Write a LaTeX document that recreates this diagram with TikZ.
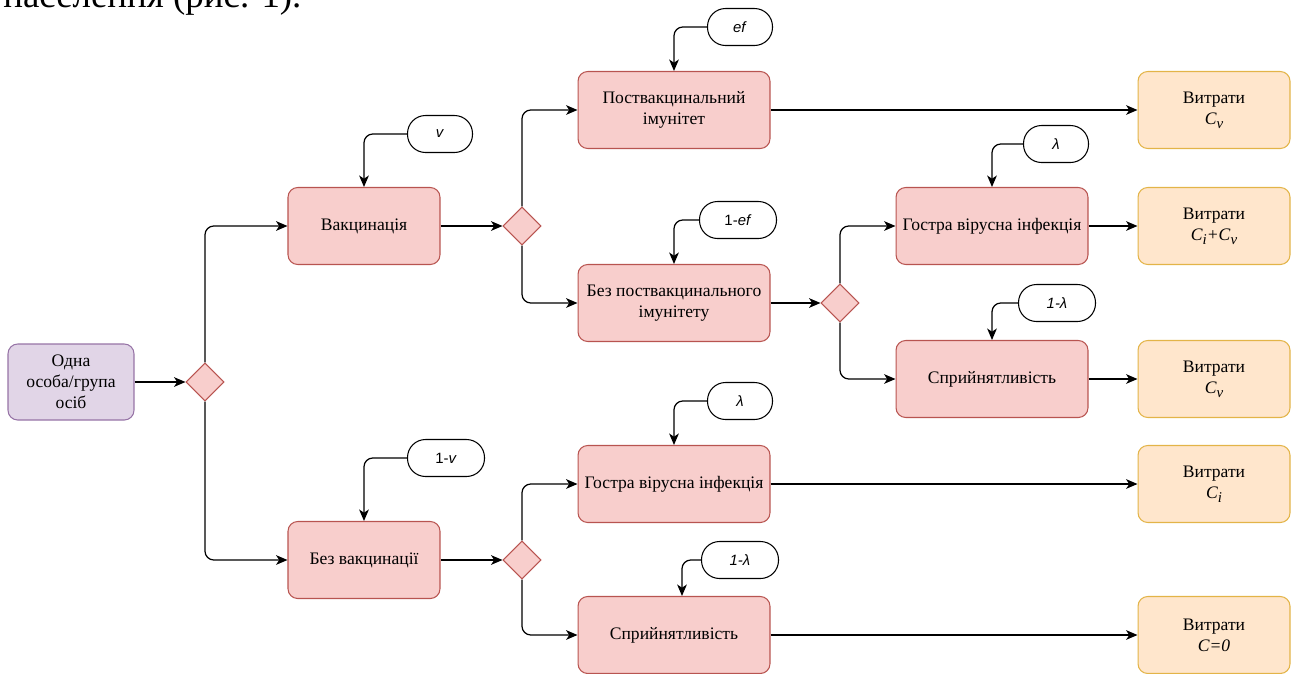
\documentclass[tikz,border=0pt]{standalone}
\usepackage{fontspec}
\setmainfont{Liberation Serif}
\newfontfamily\pillfont{Liberation Sans}
\usetikzlibrary{arrows.meta,shapes.geometric}

\definecolor{boxred}{HTML}{B85450}
\definecolor{boxredfill}{HTML}{F8CECC}
\definecolor{startline}{HTML}{9673A6}
\definecolor{startfill}{HTML}{E1D5E7}
\definecolor{costline}{HTML}{E3B448}
\definecolor{costfill}{HTML}{FFE6CC}

% cost subscript
\newcommand{\csub}[1]{\raisebox{-0.45ex}{\fontsize{8.5}{9}\selectfont\textit{#1}}}

\begin{document}
\begin{tikzpicture}[
    x=0.02cm,
    y=-0.02cm,
    box/.style={
        rectangle,
        rounded corners=5.5pt,
        draw=boxred,
        fill=boxredfill,
        line width=0.6pt,
        minimum width=3.04cm,
        minimum height=1.54cm,
        align=center,
        font=\rmfamily\fontsize{10}{12}\selectfont
    },
    wide/.style={
        box,
        minimum width=3.84cm
    },
    start/.style={
        box,
        draw=startline,
        fill=startfill,
        minimum width=2.52cm,
        minimum height=1.52cm
    },
    cost/.style={
        box,
        draw=costline,
        fill=costfill
    },
    choice/.style={
        diamond,
        draw=boxred,
        fill=boxredfill,
        line width=0.6pt,
        minimum width=0.76cm,
        minimum height=0.76cm,
        inner sep=0pt
    },
    prob/.style={
        rectangle,
        rounded corners=0.36cm,
        draw,
        line width=0.6pt,
        minimum width=1.3cm,
        minimum height=0.74cm,
        font=\pillfont\fontsize{8.5}{10}\selectfont
    },
    link/.style={
        -{Stealth[length=6.5pt,width=5.5pt,inset=1.8pt]},
        line width=0.7pt,
        rounded corners=5pt
    }
]
\useasboundingbox (0,0) rectangle (1291,673);

% Text above the figure
\node[anchor=base west, inner sep=0pt, font=\fontsize{21}{21}\selectfont] (caption) at (3,7) {населення (рис. 1).};

% Nodes
\node[start] (group) at (71,382) {Одна\\особа/група\\осіб};
\node[choice] (d1) at (205,382) {};

\node[box] (vac) at (364,226) {Вакцинація};
\node[box] (novac) at (364,560) {Без вакцинації};
\node[choice] (d2) at (522,226) {};
\node[choice] (d4) at (522,560) {};

\node[wide] (imm) at (674,110) {Поствакцинальний\\імунітет};
\node[wide] (noimm) at (674,303) {Без поствакцинального\\імунітету};
\node[choice] (d3) at (840,303) {};
\node[wide] (inf1) at (992,226) {Гостра вірусна інфекція};
\node[wide] (sus1) at (992,379) {Сприйнятливість};

\node[wide] (inf2) at (674,484) {Гостра вірусна інфекція};
\node[wide] (sus2) at (674,635) {Сприйнятливість};

\node[cost] (cost1) at (1214,110) {Витрати\\\textit{C}\csub{v}};
\node[cost] (cost2) at (1214,226) {Витрати\\\textit{C}\csub{i}\textit{+C}\csub{v}};
\node[cost] (cost3) at (1214,379) {Витрати\\\textit{C}\csub{v}};
\node[cost] (cost4) at (1214,484) {Витрати\\\textit{C}\csub{i}};
\node[cost] (cost5) at (1214,635) {Витрати\\\textit{C=0}};

% Probabilities
\node[prob] (pv) at (440,134) {\textit{v}};
\node[prob, minimum width=1.54cm] (pnv) at (446,458) {1-\textit{v}};
\node[prob] (pef) at (740,27) {\textit{ef}};
\node[prob, minimum width=1.54cm] (pnef) at (738,220) {1-\textit{ef}};
\node[prob] (pl1) at (1056,144) {\textit{λ}};
\node[prob, minimum width=1.54cm] (pnl1) at (1057,303) {\textit{1-λ}};
\node[prob] (pl2) at (740,401) {\textit{λ}};
\node[prob, minimum width=1.54cm] (pnl2) at (740,560) {\textit{1-λ}};

% Branches
\draw[link] (group) -- (d1);
\draw[link] (d1.north) |- (vac);
\draw[link] (d1.south) |- (novac);
\draw[link] (vac) -- (d2);
\draw[link] (novac) -- (d4);
\draw[link] (d2.north) |- (imm);
\draw[link] (d2.south) |- (noimm);
\draw[link] (noimm) -- (d3);
\draw[link] (d3.north) |- (inf1);
\draw[link] (d3.south) |- (sus1);
\draw[link] (d4.north) |- (inf2);
\draw[link] (d4.south) |- (sus2);

% Costs
\draw[link] (imm) -- (cost1);
\draw[link] (inf1) -- (cost2);
\draw[link] (sus1) -- (cost3);
\draw[link] (inf2) -- (cost4);
\draw[link] (sus2) -- (cost5);

% Probability arrows
\draw[link] (pv.west) -| (vac.north);
\draw[link] (pnv.west) -| (novac.north);
\draw[link] (pef.west) -| (imm.north);
\draw[link] (pnef.west) -| (noimm.north);
\draw[link] (pl1.west) -| (inf1.north);
\draw[link] (pnl1.west) -| (sus1.north);
\draw[link] (pl2.west) -| (inf2.north);
\draw[link] (pnl2.west) -| ([xshift=0.16cm]sus2.north);

\end{tikzpicture}
\end{document}
